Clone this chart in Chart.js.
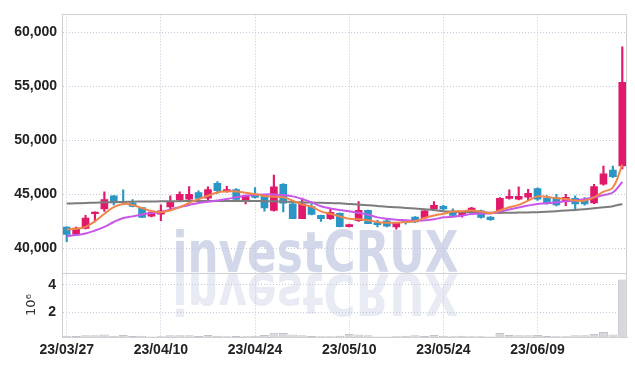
<!DOCTYPE html>
<html>
<head>
<meta charset="utf-8">
<script src="https://cdn.jsdelivr.net/npm/chart.js@4/dist/chart.umd.min.js"></script>
<style>
  html, body { margin: 0; padding: 0; background: #fff; }
</style>
</head>
<body>
<canvas id="myChart" width="635" height="366"></canvas>
<script>
// trading days (yy/mm/dd)
const dates = [
  '23/03/27','23/03/28','23/03/29','23/03/30','23/03/31','23/04/03','23/04/04','23/04/05','23/04/06','23/04/07',
  '23/04/10','23/04/11','23/04/12','23/04/13','23/04/14','23/04/17','23/04/18','23/04/19','23/04/20','23/04/21',
  '23/04/24','23/04/25','23/04/26','23/04/27','23/04/28','23/05/02','23/05/03','23/05/04','23/05/08','23/05/09',
  '23/05/10','23/05/11','23/05/12','23/05/15','23/05/16','23/05/17','23/05/18','23/05/19','23/05/22','23/05/23',
  '23/05/24','23/05/25','23/05/26','23/05/30','23/05/31','23/06/01','23/06/02','23/06/05','23/06/07','23/06/08',
  '23/06/09','23/06/12','23/06/13','23/06/14','23/06/15','23/06/16','23/06/19','23/06/20','23/06/21','23/06/22'
];

const opens = [
  41970, 41300, 41850, 43210, 43660, 44880, 44350, 44210, 43790, 43000,
  43180, 43850, 44480, 44570, 45180, 44660, 46030, 45270, 45450, 44430,
  44910, 44910, 43520, 45940, 44120, 42750, 43880, 43060, 42750, 43250,
  42030, 42570, 43520, 42390, 42550, 42000, 42570, 42910, 42820, 43660,
  43910, 43360, 43060, 43360, 43480, 42910, 43300, 44640, 44570, 44750,
  45550, 44660, 44700, 44430, 44640, 44520, 44210, 45940, 47240, 47640
];
const highs = [
  42000, 41970, 43060, 43400, 45240, 44900, 45430, 44520, 43790, 43400,
  44030, 44880, 45240, 45730, 45340, 45700, 46180, 45750, 45550, 44950,
  45640, 44950, 46790, 46000, 44150, 44660, 44120, 43100, 43660, 43300,
  42250, 44330, 43550, 42610, 42700, 42400, 42600, 42950, 43500, 44330,
  44000, 43660, 43350, 43800, 43550, 42950, 44700, 45430, 45700, 45480,
  45600, 44900, 45000, 45000, 44880, 44700, 45940, 47610, 47610, 58640
];
const lows = [
  40640, 41300, 41800, 42450, 43430, 44030, 44030, 43850, 42880, 42910,
  42570, 43660, 44420, 44390, 44430, 44430, 45090, 45200, 44500, 44120,
  44660, 43450, 43450, 43390, 42750, 42750, 43100, 42510, 42700, 42000,
  42000, 42500, 42300, 42000, 42000, 41790, 42250, 42400, 42800, 43600,
  43600, 43000, 42900, 43300, 42800, 42600, 43250, 44550, 44500, 44430,
  44450, 44100, 43940, 43970, 43610, 44000, 44150, 45850, 46550, 47360
];
const closes = [
  41300, 41900, 42820, 43360, 44520, 44210, 44280, 43880, 42880, 43360,
  43480, 44330, 45000, 45000, 44640, 45450, 45340, 45450, 44540, 44910,
  44730, 43760, 45700, 44180, 42750, 44120, 43150, 42750, 43340, 42030,
  42210, 43520, 42300, 42210, 42060, 42390, 42390, 42450, 43480, 44000,
  43660, 43060, 43300, 43730, 42880, 42660, 44640, 44820, 44820, 45090,
  44570, 44180, 44030, 44730, 44120, 44120, 45730, 46910, 46640, 55360
];

// moving averages
const maShort = [
  41760, 41820, 42000, 42520, 43210, 43820, 44120, 44030, 43730, 43480,
  43360, 43520, 43820, 44210, 44570, 44880, 45180, 45270, 45270, 45150,
  45030, 44850, 44790, 44730, 44430, 44060, 43880, 43430, 43210, 42970,
  42750, 42700, 42610, 42450, 42390, 42390, 42450, 42520, 42820, 43060,
  43210, 43430, 43450, 43520, 43430, 43270, 43520, 43820, 44030, 44430,
  44820, 44760, 44660, 44570, 44430, 44430, 44730, 45250, 45640, 47760
];
const maMid = [
  41150, 41240, 41390, 41660, 42000, 42450, 42820, 42970, 43150, 43270,
  43360, 43610, 43820, 44030, 44210, 44330, 44430, 44570, 44730, 44880,
  44970, 45000, 45000, 44940, 44820, 44570, 44270, 43910, 43700, 43550,
  43450, 43300, 43120, 42880, 42750, 42660, 42610, 42560, 42610, 42700,
  42880, 42940, 43060, 43180, 43240, 43240, 43430, 43610, 43790, 43970,
  44120, 44180, 44270, 44360, 44430, 44570, 44730, 44940, 45180, 46150
];
const maLong = [
  44150, 44180, 44210, 44240, 44270, 44290, 44310, 44330, 44340, 44350,
  44360, 44370, 44380, 44390, 44390, 44390, 44390, 44390, 44390, 44390,
  44390, 44380, 44360, 44330, 44300, 44270, 44250, 44220, 44200, 44180,
  44120, 44060, 44000, 43930, 43860, 43810, 43750, 43700, 43640, 43550,
  43450, 43420, 43390, 43360, 43330, 43300, 43300, 43310, 43320, 43340,
  43360, 43400, 43450, 43510, 43570, 43640, 43720, 43810, 43910, 44120
];

// volume in millions
const volumes = [
  0.30, 0.28, 0.33, 0.33, 0.40, 0.30, 0.36, 0.28, 0.30, 0.25,
  0.27, 0.33, 0.33, 0.33, 0.28, 0.35, 0.30, 0.27, 0.28, 0.26,
  0.30, 0.35, 0.52, 0.50, 0.40, 0.33, 0.28, 0.27, 0.26, 0.30,
  0.42, 0.40, 0.33, 0.25, 0.24, 0.27, 0.30, 0.33, 0.28, 0.35,
  0.30, 0.27, 0.30, 0.27, 0.26, 0.25, 0.50, 0.35, 0.33, 0.33,
  0.35, 0.28, 0.27, 0.27, 0.33, 0.33, 0.42, 0.58, 0.40, 4.40
];

const priceTicks = [40000, 45000, 50000, 55000, 60000];
const volumeTicks = [2, 4];

const upColor = '#e2196b';
const downColor = '#2b95c6';
const gridColor = '#c3c8dc';
const frameColor = '#cfcfd4';
const tickFont = { family: '"Liberation Sans", sans-serif', size: 14, weight: 'bold' };

function candleColor(ctx) {
    const i = ctx.dataIndex;
    return closes[i] >= opens[i] ? upColor : downColor;
}

// watermark + panel frame
const chartDecor = {
    id: 'chartDecor',
    beforeDraw(chart) {
        const ctx = chart.ctx;
        const base = chart.scales.yVol.top;
        const cx = chart.width / 2 - 2;
        ctx.save();
        ctx.font = 'bold 57px "DejaVu Sans", sans-serif';
        ctx.textAlign = 'center';
        ctx.textBaseline = 'alphabetic';
        ctx.fillStyle = 'rgb(210,215,234)';
        ctx.fillText('investCRUX', cx, base - 1, 286);
        ctx.translate(0, base * 2 + 1);
        ctx.scale(1, -1);
        ctx.fillStyle = 'rgba(210,215,234,0.5)';
        ctx.fillText('investCRUX', cx, base, 286);
        ctx.restore();
    },
    afterDraw(chart) {
        const { ctx, chartArea } = chart;
        const sep = Math.round(chart.scales.yVol.top) + 0.5;
        ctx.save();
        ctx.strokeStyle = frameColor;
        ctx.lineWidth = 1;
        ctx.beginPath();
        ctx.moveTo(chartArea.left, Math.round(chartArea.top) + 0.5);
        ctx.lineTo(chartArea.right, Math.round(chartArea.top) + 0.5);
        ctx.moveTo(Math.round(chartArea.right) - 0.5, chartArea.top);
        ctx.lineTo(Math.round(chartArea.right) - 0.5, chartArea.bottom);
        ctx.moveTo(chartArea.left, sep);
        ctx.lineTo(chartArea.right, sep);
        ctx.stroke();
        ctx.restore();
    }
};

const data = {
    labels: dates,
    datasets: [
        { type: 'line', label: 'MA short', data: maShort, yAxisID: 'y', borderColor: '#f0874a', borderWidth: 2, pointRadius: 0, tension: 0.4, order: 1 },
        { type: 'line', label: 'MA mid', data: maMid, yAxisID: 'y', borderColor: '#c957e8', borderWidth: 2, pointRadius: 0, tension: 0.4, order: 1 },
        { type: 'line', label: 'MA long', data: maLong, yAxisID: 'y', borderColor: '#7c7c7c', borderWidth: 2, pointRadius: 0, tension: 0.4, order: 1 },
        { type: 'bar', label: 'body', data: opens.map((o, i) => [o, closes[i]]), yAxisID: 'y', backgroundColor: candleColor, barThickness: 7, grouped: false, order: 2 },
        { type: 'bar', label: 'wick', data: lows.map((l, i) => [l, highs[i]]), yAxisID: 'y', backgroundColor: candleColor, barThickness: 1.5, grouped: false, order: 3 },
        { type: 'bar', label: 'volume', data: volumes, yAxisID: 'yVol', backgroundColor: '#d7d7dc', borderColor: '#c2c2c9', borderWidth: 1, categoryPercentage: 1, barPercentage: 0.94, grouped: false, order: 4 }
    ]
};

const config = {
    type: 'bar',
    data: data,
    options: {
        responsive: false,
        animation: false,
        devicePixelRatio: 1,
        layout: { padding: { top: 9, right: 8, left: 0, bottom: 0 } },
        plugins: { legend: { display: false }, tooltip: { enabled: false } },
        scales: {
            x: {
                type: 'category',
                offset: true,
                grid: { offset: false, color: gridColor, drawTicks: false },
                border: { color: frameColor, dash: [1, 2] },
                ticks: {
                    autoSkip: false, maxRotation: 0, padding: 5, color: '#222', font: tickFont,
                    callback: (v, i) => (i % 10 === 0 ? dates[i] : null)
                },
                afterFit: (s) => { s.height = 29; }
            },
            yVol: {
                type: 'linear', position: 'left', stack: 'panel', stackWeight: 65,
                min: 0.21, max: 4.86,
                grid: { color: gridColor, drawTicks: false },
                border: { color: frameColor, dash: [1, 2] },
                ticks: { padding: 6, color: '#222', font: tickFont },
                afterBuildTicks: (s) => { s.ticks = volumeTicks.map(v => ({ value: v })); },
                title: { display: true, text: '10⁶', color: '#333', font: { family: 'DejaVu Sans', size: 13 }, padding: { top: 24, bottom: 0 } },
                afterFit: (s) => { s.width = 62; }
            },
            y: {
                type: 'linear', position: 'left', stack: 'panel', stackWeight: 263,
                min: 37730, max: 61640,
                grid: { color: gridColor, drawTicks: false },
                border: { color: frameColor, dash: [1, 2] },
                ticks: { padding: 5, color: '#222', font: tickFont },
                afterBuildTicks: (s) => { s.ticks = priceTicks.map(v => ({ value: v })); },
                afterFit: (s) => { s.width = 62; }
            }
        }
    },
    plugins: [chartDecor]
};

const myChart = new Chart(document.getElementById('myChart'), config);
</script>
</body>
</html>
